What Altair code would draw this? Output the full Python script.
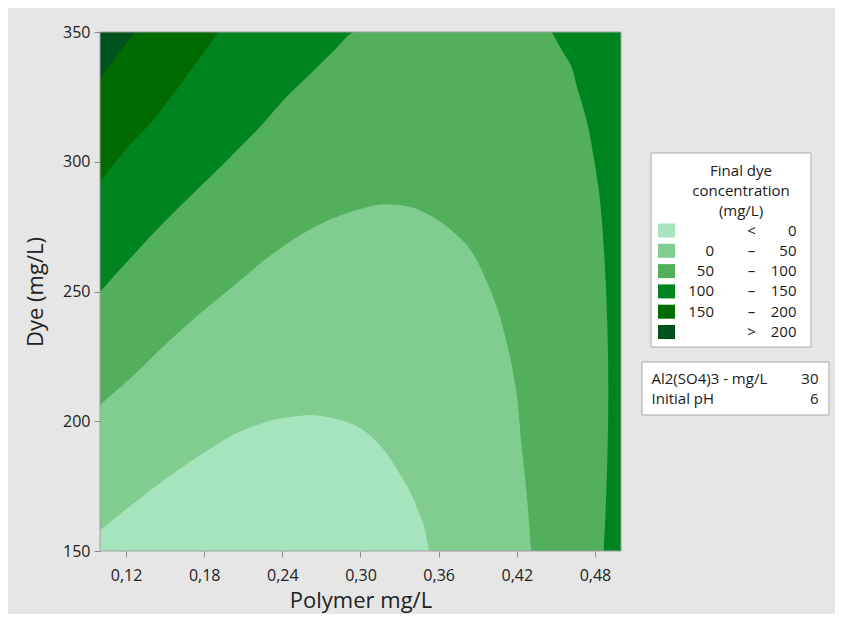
import altair as alt
import pandas as pd

# ---- contour boundaries (Polymer mg/L, Dye mg/L) ----
# "< 0" region: dome above the bottom edge
low_x = [0.100, 0.126, 0.151, 0.177, 0.202, 0.228, 0.254, 0.261, 0.279, 0.300, 0.318, 0.330, 0.343, 0.352, 0.3525]
low_y = [158.0, 168.4, 178.0, 187.0, 194.7, 199.8, 202.1, 202.4, 201.1, 197.3, 188.9, 179.9, 167.1, 151.7, 150.0]

# "0 - 50" region: larger dome
mid_x = [0.100, 0.126, 0.151, 0.177, 0.202, 0.228, 0.254, 0.279, 0.305, 0.318, 0.330, 0.353, 0.371, 0.387,
         0.397, 0.405, 0.412, 0.417, 0.420, 0.424, 0.428, 0.431]
mid_y = [206.3, 217.8, 230.0, 241.6, 251.9, 262.8, 271.8, 278.2, 282.5, 283.6, 283.3, 279.5, 273.0, 264.1,
         253.8, 243.5, 230.7, 219.1, 210.1, 188.9, 169.7, 150.0]

# "50 - 100" upper-left boundary
b50_x = [0.100, 0.122, 0.147, 0.173, 0.199, 0.224, 0.242, 0.263, 0.280, 0.296, 0.500]
b50_y = [249.9, 262.1, 275.6, 288.5, 301.3, 314.1, 324.4, 334.6, 343.0, 350.0, 350.0]

# "100 - 150" right-hand boundary (x as a function of Dye)
r100_y = [150.0, 160.0, 185.7, 211.4, 237.1, 262.8, 288.5, 303.4, 314.0, 328.8, 337.1, 342.9, 350.0]
r100_x = [0.4866, 0.4877, 0.4895, 0.4903, 0.4895, 0.4873, 0.4831, 0.4785, 0.4746, 0.4662, 0.4616, 0.4547, 0.4468]

# "150 - 200" upper-left boundary
b150_x = [0.100, 0.1217, 0.1397, 0.1576, 0.1729, 0.1908]
b150_y = [292.3, 305.8, 315.4, 327.0, 337.3, 350.0]

# "> 200" corner boundary
b200_x = [0.100, 0.1115, 0.1269]
b200_y = [332.2, 339.9, 350.0]

colors = ["#a6e4bd", "#80cd8f", "#52b05c", "#00841f", "#006b00", "#00521c"]
legend_lo = ["", "0", "50", "100", "150", ""]
legend_mid = ["<", "–", "–", "–", "–", ">"]
legend_hi = ["0", "50", "100", "150", "200", "200"]
legend_title = ["Final dye", "concentration", "(mg/L)"]
hold_names = ["Al2(SO4)3 - mg/L", "Initial pH"]
hold_values = ["30", "6"]

x_ticks = [0.12, 0.18, 0.24, 0.30, 0.36, 0.42, 0.48]
y_ticks = [150, 200, 250, 300, 350]
x_domain = [0.1, 0.5]
y_domain = [150, 350]

FONT = "Open Sans"
W, H = 521, 519

xs = alt.Scale(domain=x_domain, nice=False, zero=False)
ys = alt.Scale(domain=y_domain, nice=False, zero=False)
ax_x = alt.Axis(values=x_ticks, title="Polymer mg/L",
                labelExpr="replace(format(datum.value, '.2f'), '.', ',')",
                labelPadding=10, titlePadding=7)
ax_y = alt.Axis(values=y_ticks, title="Dye (mg/L)", labelPadding=4, titlePadding=15)


def X(f):
    return alt.X(f, type="quantitative", scale=xs, axis=ax_x)


def Y(f):
    return alt.Y(f, type="quantitative", scale=ys, axis=ax_y)


def df(**k):
    return pd.DataFrame(k)


bg = alt.Chart(df(a=[0])).mark_rect(color=colors[3]).encode(
    x=alt.value(0), x2=alt.value(W), y=alt.value(0), y2=alt.value(H))

band50 = alt.Chart(df(x=b50_x, y=b50_y)).mark_area(color=colors[2], opacity=1, interpolate="monotone").encode(
    x=X("x"), y=Y("y"), y2=alt.datum(150))

right100 = alt.Chart(df(x=r100_x, y=r100_y)).mark_area(
    color=colors[3], opacity=1, orient="horizontal", interpolate="monotone").encode(
    y=Y("y"), x=X("x"), x2=alt.datum(0.5))

dome_mid = alt.Chart(df(x=mid_x, y=mid_y)).mark_area(color=colors[1], opacity=1, interpolate="monotone").encode(
    x=X("x"), y=Y("y"), y2=alt.datum(150))

dome_low = alt.Chart(df(x=low_x, y=low_y)).mark_area(color=colors[0], opacity=1, interpolate="monotone").encode(
    x=X("x"), y=Y("y"), y2=alt.datum(150))

band150 = alt.Chart(df(x=b150_x, y=b150_y)).mark_area(color=colors[4], opacity=1, interpolate="monotone").encode(
    x=X("x"), y=Y("y"), y2=alt.datum(350))

band200 = alt.Chart(df(x=b200_x, y=b200_y)).mark_area(color=colors[5], opacity=1, interpolate="monotone").encode(
    x=X("x"), y=Y("y"), y2=alt.datum(350))

border = alt.Chart(df(a=[0])).mark_rect(filled=False, stroke="#a0a0a0", strokeWidth=1).encode(
    x=alt.value(0), x2=alt.value(W), y=alt.value(0), y2=alt.value(H))

one = df(a=[0])
TXT = dict(font=FONT, fontSize=15, baseline="middle", color="#1a1a1a", lineBreak="\n")

# ---- legend box ----
leg_box = alt.Chart(one).mark_rect(fill="white", stroke="#a8a8a8", strokeWidth=1).encode(
    x=alt.value(551), x2=alt.value(711), y=alt.value(121), y2=alt.value(315))
leg_title = alt.Chart(one).mark_text(
    text="\n".join(legend_title), lineHeight=20, align="center", **TXT).encode(
    x=alt.value(641), y=alt.value(139))

row0, rstep = 198.5, 20.3
swatches = []
for i, c in enumerate(colors):
    cy = row0 + i * rstep
    swatches.append(alt.Chart(one).mark_rect(color=c).encode(
        x=alt.value(558), x2=alt.value(575), y=alt.value(cy - 7), y2=alt.value(cy + 7)))

col_lo = alt.Chart(one).mark_text(
    text="\n".join(legend_lo), lineHeight=rstep, align="right", **TXT).encode(
    x=alt.value(614), y=alt.value(row0))
col_mid = alt.Chart(one).mark_text(
    text="\n".join(legend_mid), lineHeight=rstep, align="center", **TXT).encode(
    x=alt.value(651.5), y=alt.value(row0))
col_hi = alt.Chart(one).mark_text(
    text="\n".join(legend_hi), lineHeight=rstep, align="right", **TXT).encode(
    x=alt.value(696.5), y=alt.value(row0))

# ---- hold values box ----
hold_box = alt.Chart(one).mark_rect(fill="white", stroke="#a8a8a8", strokeWidth=1).encode(
    x=alt.value(542), x2=alt.value(729), y=alt.value(330), y2=alt.value(383))
hold_n = alt.Chart(one).mark_text(
    text="\n".join(hold_names), lineHeight=20, align="left", **TXT).encode(
    x=alt.value(551.5), y=alt.value(347))
hold_v = alt.Chart(one).mark_text(
    text="\n".join(hold_values), lineHeight=20, align="right", **TXT).encode(
    x=alt.value(718.5), y=alt.value(347))

chart = alt.layer(
    bg, band50, right100, dome_mid, dome_low, band150, band200, border,
    leg_box, leg_title, *swatches, col_lo, col_mid, col_hi,
    hold_box, hold_n, hold_v
).properties(
    width=W, height=H,
    autosize=alt.AutoSizeParams(type="none"),
    padding={"left": 92, "top": 24, "right": 214, "bottom": 63},
    background="#e6e6e6",
).configure_view(stroke=None).configure_axis(
    grid=False, domain=False, tickColor="#8a8a8a", tickSize=6,
    labelFont=FONT, labelFontSize=16, labelColor="#222222",
    titleFont=FONT, titleFontSize=22, titleFontWeight="normal", titleColor="#222222",
)

chart.save("out.html", embed_options={"renderer": "svg", "actions": False})
